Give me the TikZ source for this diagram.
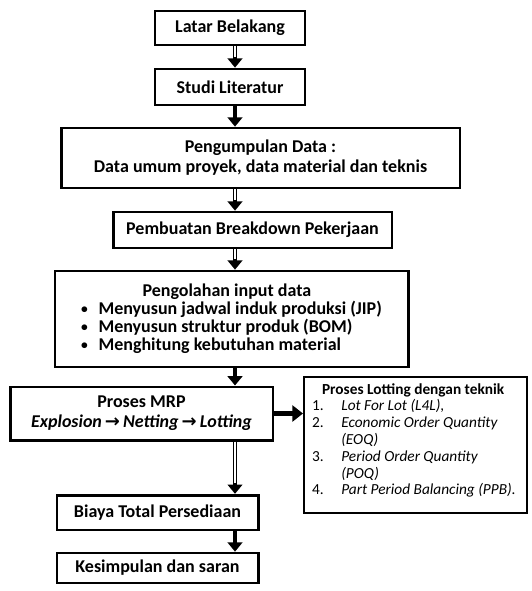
\documentclass[tikz,border=0pt]{standalone}
\usepackage{fontspec}
\setmainfont{Carlito}
\newfontfamily\symfont{DejaVu Sans}
\usetikzlibrary{arrows.meta,positioning}
\tikzset{
  flowbox/.style={
    draw,
    line width=2pt,
    align=center,
    inner sep=0pt,
    font=\bfseries\fontsize{13.5}{15}\selectfont
  },
  lotbox/.style={draw,line width=1.5pt,inner sep=0pt},
  flowarrow/.style={line width=3.4pt,-{Triangle[length=7pt,width=11pt]}},
  hollowarrow/.style={flowarrow,postaction={draw=white,line width=0.8pt,arrows=-,shorten >=8pt}},
  sidearrow/.style={line width=3.4pt,-{Triangle[length=8pt,width=12pt]}}
}
\newcommand{\flowto}{\,{\symfont\bfseries\upshape →}\,}
\newcommand{\dotitem}{\raisebox{0.15ex}{\scalebox{0.75}{\textbullet}}\hspace{8pt}}

\begin{document}
\begin{tikzpicture}[x=0.75pt,y=-0.75pt]
        \useasboundingbox (0,0) rectangle (531,591);
        \coordinate (axis) at (235,0);
        \node[flowbox,minimum width=112.5pt,minimum height=25.5pt] (latar) at (230,28) {Latar Belakang};
        \node[flowbox,minimum width=112.5pt,minimum height=27pt] (studi) at (230,87) {Studi Literatur};
        \node[flowbox,minimum width=299pt,minimum height=45pt] (kumpul) at (260.5,158) {Pengumpulan Data :\\Data umum proyek, data material dan teknis};
        \node[flowbox,minimum width=209pt,minimum height=27pt] (breakdown) at (252.5,230) {Pembuatan Breakdown Pekerjaan};
        \node[flowbox,minimum width=265pt,minimum height=72pt,align=left,font=\bfseries\fontsize{13.5}{13.5}\selectfont] (olah) at (231.5,319) {\hspace*{46pt}Pengolahan input data\\
          \dotitem Menyusun jadwal induk produksi (JIP)\\
          \dotitem Menyusun struktur produk (BOM)\\
          \dotitem Menghitung kebutuhan material};
        \node[flowbox,minimum width=197pt,minimum height=40pt] (mrp) at (141.5,413.5) {Proses MRP\\\textit{Explosion\flowto Netting\flowto Lotting}};
        \node[lotbox,anchor=north west] (lotting) at (303,376) {\parbox[c][102pt][t]{167pt}{\fontsize{11.5}{12.6}\selectfont\vspace{4pt}\hspace*{6pt}\begin{tabular}[t]{@{}p{22pt}@{}l@{}}
          \multicolumn{2}{@{\hspace{7.5pt}}l@{}}{\textbf{Proses Lotting dengan teknik}}\\
          1. & \textit{Lot For Lot (L4L),}\\
          2. & \textit{Economic Order Quantity}\\
             & \textit{(EOQ)}\\
          3. & \textit{Period Order Quantity}\\
             & \textit{(POQ)}\\
          4. & \textit{Part Period Balancing (PPB).}
        \end{tabular}}};
        \node[flowbox,minimum width=151pt,minimum height=26pt] (biaya) at (157.5,512.5) {Biaya Total Persediaan};
        \node[flowbox,minimum width=151pt,minimum height=22.5pt] (simpul) at (157.5,568) {Kesimpulan dan saran};
        % main flow along one axis
        \draw[hollowarrow] (latar.south -| axis) -- (studi.north -| axis);
        \draw[flowarrow] (studi.south -| axis) -- (kumpul.north -| axis);
        \draw[hollowarrow] (kumpul.south -| axis) -- (breakdown.north -| axis);
        \draw[hollowarrow] (breakdown.south -| axis) -- (olah.north -| axis);
        \draw[flowarrow] (olah.south -| axis) -- (mrp.north -| axis);
        \draw[hollowarrow] (mrp.south -| axis) -- (biaya.north -| axis);
        \draw[flowarrow] (biaya.south -| axis) -- (simpul.north -| axis);
        \draw[sidearrow] (mrp.east) -- (mrp.east -| lotting.west);
\end{tikzpicture}
\end{document}
